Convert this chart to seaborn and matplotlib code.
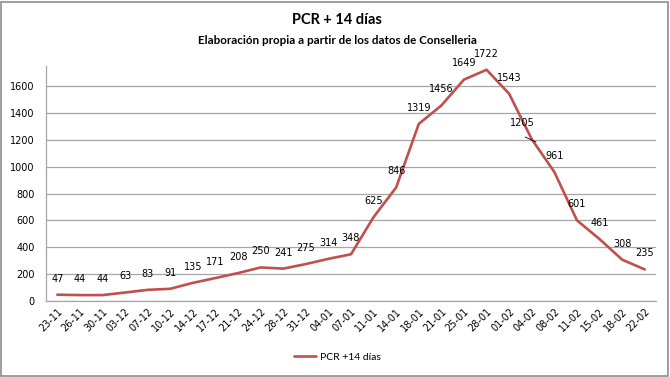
import matplotlib
matplotlib.use("Agg")
import matplotlib.pyplot as plt
import seaborn as sns
import pandas as pd
from matplotlib.patches import Rectangle

fechas = ["23-11", "26-11", "30-11", "03-12", "07-12", "10-12", "14-12", "17-12",
          "21-12", "24-12", "28-12", "31-12", "04-01", "07-01", "11-01", "14-01",
          "18-01", "21-01", "25-01", "28-01", "01-02", "04-02", "08-02", "11-02",
          "15-02", "18-02", "22-02"]
casos = [47, 44, 44, 63, 83, 91, 135, 171, 208, 250, 241, 275, 314, 348, 625, 846,
         1319, 1456, 1649, 1722, 1543, 1205, 961, 601, 461, 308, 235]
yticks = [0, 200, 400, 600, 800, 1000, 1200, 1400, 1600]

df = pd.DataFrame({"fecha": fechas, "casos": casos, "x": range(len(fechas))})

sns.set_style("white")
plt.rcParams['font.family'] = ['DejaVu Sans']
plt.rcParams.update({"text.color": "black", "xtick.color": "black", "ytick.color": "black"})

fig = plt.figure(figsize=(6.7, 3.77), dpi=100)
ax = fig.add_axes([46 / 670, 1 - 301 / 377, 610 / 670, 235 / 377])

sns.lineplot(data=df, x="x", y="casos", ax=ax, color="#C0504D", lw=1.9,
             label="PCR +14 días", legend=False)

ax.set_xlim(-0.5, len(fechas) - 0.5)
ax.set_ylim(0, 1750)
ax.set_yticks(yticks)
ax.set_yticklabels([str(v) for v in yticks], fontsize=7)
ax.set_xticks(df.x)
ax.set_xticklabels(fechas, rotation=45, ha="right", rotation_mode="anchor", fontsize=7)
ax.tick_params(axis="x", length=0, pad=4)
ax.tick_params(axis="y", length=0, pad=8)
ax.grid(axis="y", color="#a6a6a6", lw=0.9)
ax.set_xlabel("")
ax.set_ylabel("")
for s in ["top", "right"]:
    ax.spines[s].set_visible(False)
for s in ["left", "bottom"]:
    ax.spines[s].set_color("#a6a6a6")
    ax.spines[s].set_linewidth(0.9)

for xi, v in zip(df.x, casos):
    dx = 0
    if v == 1205:
        dx = -7
    ax.annotate(str(v), (xi, v), xytext=(dx, 8), textcoords="offset points",
                ha="center", va="bottom", fontsize=7, color="black")
ax.annotate("", xy=(21.3, 1175), xytext=(20.6, 1230),
            arrowprops=dict(arrowstyle="-", color="black", lw=0.6))

titulo_fuente = ["Liberation Sans Narrow", "Lato"]
fig.text(0.503, 1 - 20 / 377, "PCR + 14 días", ha="center", va="center",
         fontsize=10.5, fontweight="bold", family=titulo_fuente)
fig.text(0.503, 1 - 41 / 377, "Elaboración propia a partir de los datos de Conselleria",
         ha="center", va="center", fontsize=8.4, fontweight="bold", family=titulo_fuente)

leg = fig.legend(*ax.get_legend_handles_labels(), loc="center", bbox_to_anchor=(337 / 670, 1 - 357 / 377),
                 frameon=False, handlelength=2.2, handletextpad=0.3,
                 prop={"family": "Lato", "size": 7.5})

fig.patches.append(Rectangle((0.002, 0.003), 0.995, 0.993, transform=fig.transFigure,
                             fill=False, edgecolor="#8c8c8c", lw=1.2))

fig.savefig("out.png", dpi=100, facecolor="white")
